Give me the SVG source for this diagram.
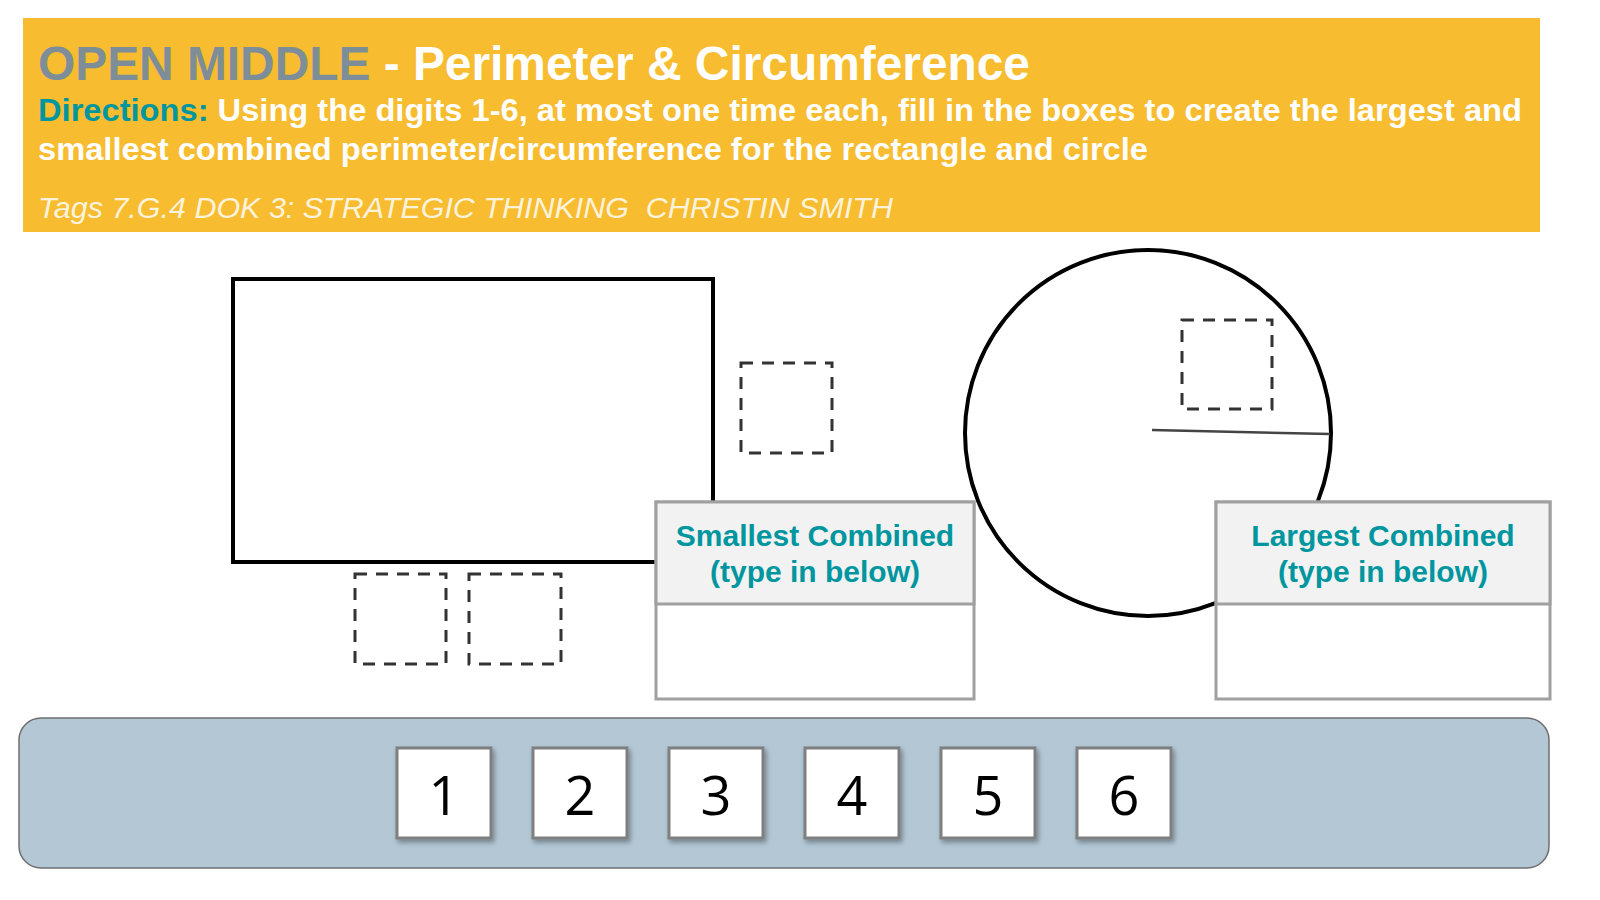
<svg xmlns="http://www.w3.org/2000/svg" width="1600" height="900" viewBox="0 0 1600 900">
<style>
.hd{font-family:"Liberation Sans",Arial,sans-serif;font-weight:bold;}
.dash{fill:none;stroke:#333;stroke-width:3;stroke-dasharray:12 9;}
.lbl{font-family:"Liberation Sans",Arial,sans-serif;font-weight:bold;font-size:30px;fill:#00969F;text-anchor:middle;}
.tile{fill:#fff;stroke:#7f7f7f;stroke-width:3;filter:url(#sh);}
.num{font-family:"Open Sans","Noto Sans",sans-serif;font-size:54px;fill:#000;text-anchor:middle;}
</style>
<defs>
<filter id="sh" x="-20%" y="-20%" width="150%" height="150%">
<feDropShadow dx="2" dy="3" stdDeviation="2.5" flood-color="#000" flood-opacity="0.35"/>
</filter>
</defs>
<rect width="1600" height="900" fill="#fff"/>
<g id="header">
<rect x="23" y="18" width="1517" height="214" fill="#F7BC30"/>
<text class="hd" x="38" y="80" font-size="48" textLength="992" lengthAdjust="spacingAndGlyphs"><tspan fill="#7D8E99">OPEN MIDDLE</tspan><tspan fill="#fff"> - Perimeter &amp; Circumference</tspan></text>
<text class="hd" x="38" y="121" font-size="31" textLength="1484" lengthAdjust="spacingAndGlyphs"><tspan fill="#00969F">Directions:</tspan><tspan fill="#fff"> Using the digits 1-6, at most one time each, fill in the boxes to create the largest and</tspan></text>
<text class="hd" x="38" y="160" font-size="31" fill="#fff" textLength="1110" lengthAdjust="spacingAndGlyphs">smallest combined perimeter/circumference for the rectangle and circle</text>
<text x="38" y="218" xml:space="preserve" font-family="Liberation Sans,Arial,sans-serif" font-style="italic" font-size="30" fill="#FDF3DC" textLength="855" lengthAdjust="spacingAndGlyphs">Tags 7.G.4 DOK 3: STRATEGIC THINKING  CHRISTIN SMITH</text>
</g>
<g id="rectangle">
<rect x="233" y="279" width="480" height="283" fill="none" stroke="#000" stroke-width="4"/>
</g>
<g id="circle">
<circle cx="1148" cy="433" r="183" fill="none" stroke="#000" stroke-width="4"/>
<line x1="1152" y1="430" x2="1330" y2="434" stroke="#444" stroke-width="2.5"/>
</g>
<g id="blanks">
<rect class="dash" x="741" y="363" width="91" height="90"/>
<rect class="dash" x="355" y="574" width="91" height="90"/>
<rect class="dash" x="469" y="574" width="92" height="90"/>
<rect class="dash" x="1182" y="320" width="90" height="89"/>
</g>
<g id="smallest">
<rect x="656" y="502" width="318" height="197" fill="#fff" stroke="#A0A0A0" stroke-width="3"/>
<rect x="656" y="502" width="318" height="102" fill="#F2F2F2" stroke="#A0A0A0" stroke-width="3"/>
<text class="lbl" x="815" y="546">Smallest Combined</text>
<text class="lbl" x="815" y="582">(type in below)</text>
</g>
<g id="largest">
<rect x="1216" y="502" width="334" height="197" fill="#fff" stroke="#A0A0A0" stroke-width="3"/>
<rect x="1216" y="502" width="334" height="102" fill="#F2F2F2" stroke="#A0A0A0" stroke-width="3"/>
<text class="lbl" x="1383" y="546">Largest Combined</text>
<text class="lbl" x="1383" y="582">(type in below)</text>
</g>
<g id="tray">
<rect x="19" y="718" width="1530" height="150" rx="22" fill="#B3C7D5" stroke="#6f6f6f" stroke-width="1.5"/>
</g>
<g id="tile1"><rect class="tile" x="397" y="748" width="94" height="90"/><text class="num" x="444" y="815">1</text></g>
<g id="tile2"><rect class="tile" x="533" y="748" width="94" height="90"/><text class="num" x="580" y="815">2</text></g>
<g id="tile3"><rect class="tile" x="669" y="748" width="94" height="90"/><text class="num" x="716" y="815">3</text></g>
<g id="tile4"><rect class="tile" x="805" y="748" width="94" height="90"/><text class="num" x="852" y="815">4</text></g>
<g id="tile5"><rect class="tile" x="941" y="748" width="94" height="90"/><text class="num" x="988" y="815">5</text></g>
<g id="tile6"><rect class="tile" x="1077" y="748" width="94" height="90"/><text class="num" x="1124" y="815">6</text></g>
<g id="connectors"/>
</svg>
